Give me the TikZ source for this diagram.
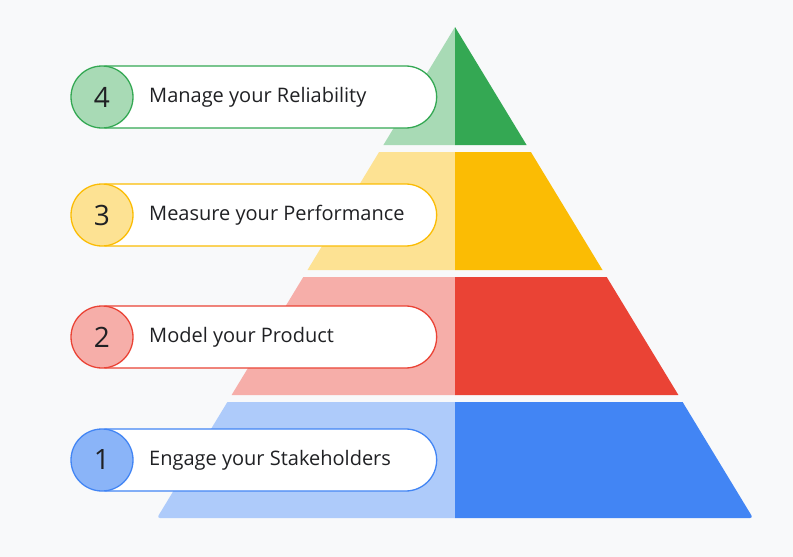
\documentclass[tikz,border=0pt]{standalone}
\usepackage{fontspec}
\setmainfont{Open Sans}
\usetikzlibrary{shapes.misc}

\definecolor{bgray}{HTML}{F8F9FA}
\definecolor{inkgray}{HTML}{202124}
\definecolor{gdark}{HTML}{34A853}
\definecolor{glight}{HTML}{A8DAB5}
\definecolor{ydark}{HTML}{FBBC04}
\definecolor{ylight}{HTML}{FDE293}
\definecolor{rdark}{HTML}{EA4335}
\definecolor{rlight}{HTML}{F6AEA9}
\definecolor{bdark}{HTML}{4285F4}
\definecolor{blight}{HTML}{AECBFA}
\definecolor{bmid}{HTML}{8AB4F8}

\begin{document}
\begin{tikzpicture}[
x=1pt, y=-1pt,
pill/.style={shape=rounded rectangle, rounded rectangle left arc=none,
  minimum width=338pt, minimum height=62pt, fill=white, line width=1.3pt},
numdisc/.style={circle, minimum size=62pt, inner sep=0pt, line width=1.3pt,
  font=\fontsize{28}{30}\selectfont, text=inkgray},
pilltext/.style={anchor=west, inner sep=0pt, font=\fontsize{20}{24}\selectfont, text=inkgray}
]
\fill[bgray] (0,0) rectangle (793,557);
\useasboundingbox (0,0) rectangle (793,557);

% pyramid, light left half and dark right half
\fill[glight] (455,27) -- (383.4,145) -- (455,145) -- cycle;
\fill[gdark] (455,27) -- (526.6,145) -- (455,145) -- cycle;
\fill[ylight] (379.1,152) -- (307.5,270) -- (455,270) -- (455,152) -- cycle;
\fill[ydark] (530.9,152) -- (602.5,270) -- (455,270) -- (455,152) -- cycle;
\fill[rlight] (303.3,277) -- (231.6,395) -- (455,395) -- (455,277) -- cycle;
\fill[rdark] (606.7,277) -- (678.4,395) -- (455,395) -- (455,277) -- cycle;
\fill[blight] (455,402) -- (227.4,402) [rounded corners=3pt] -- (157,518) [sharp corners] -- (455,518) -- cycle;
\fill[bdark] (455,402) -- (682.6,402) [rounded corners=3pt] -- (753,518) [sharp corners] -- (455,518) -- cycle;

% step labels
\node[pill, draw=gdark] (p4) at (271,97) {};
\node[numdisc, draw=gdark, fill=glight] (n4) at (102,97) {4};
\node[pilltext] (t4) at (149,97) {Manage your Reliability};

\node[pill, draw=ydark] (p3) at (271,215) {};
\node[numdisc, draw=ydark, fill=ylight] (n3) at (102,215) {3};
\node[pilltext] (t3) at (149,215) {Measure your Performance};

\node[pill, draw=rdark] (p2) at (271,337) {};
\node[numdisc, draw=rdark, fill=rlight] (n2) at (102,337) {2};
\node[pilltext] (t2) at (149,337) {Model your Product};

\node[pill, draw=bdark] (p1) at (271,460) {};
\node[numdisc, draw=bdark, fill=bmid] (n1) at (102,460) {1};
\node[pilltext] (t1) at (149,460) {Engage your Stakeholders};
\end{tikzpicture}
\end{document}
